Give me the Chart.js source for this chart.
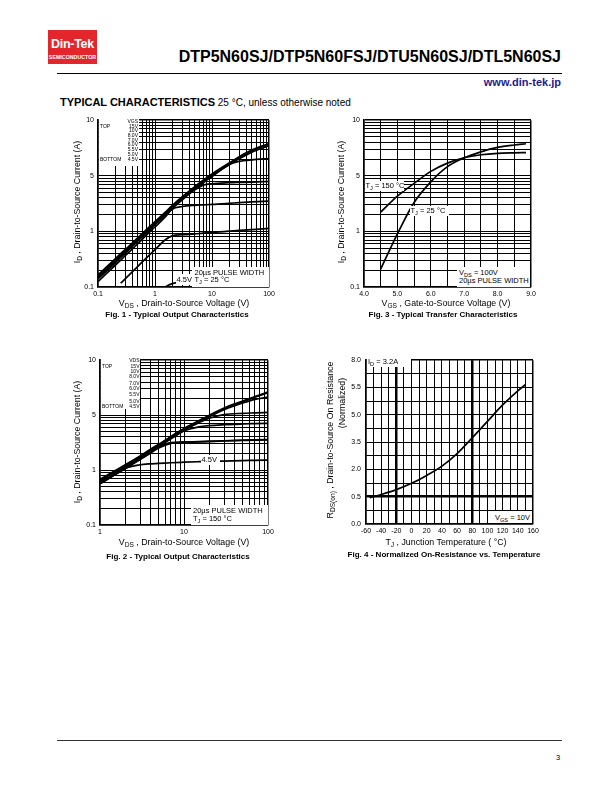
<!DOCTYPE html>
<html lang="en">
<head>
<meta charset="UTF-8">
<title>DTP5N60SJ - Typical Characteristics</title>
<script src="https://cdn.jsdelivr.net/npm/chart.js"></script>
<style>
  body { margin:0; width:612px; height:792px; background:#fff; position:relative; overflow:hidden;
         font-family:"Liberation Sans", Arial, sans-serif; color:#000; }
  canvas { position:absolute; }
  .t { position:absolute; white-space:nowrap; line-height:1; }
  .c { transform:translateX(-50%); }
  .r { transform:translateX(-100%); }
  .v { transform:translate(-50%,-50%) rotate(-90deg); }
  .box { position:absolute; background:#fff; }
  .hl { position:absolute; background:#000; height:1px; }
  sub { font-size:75%; vertical-align:-0.3em; line-height:0; }
  .cap { font-weight:bold; font-size:8px; }
  .ax { font-size:8.8px; }
  .leg { font-size:5px; }
  .note { font-size:7.5px; }
</style>
</head>
<body>

<canvas id="fig1"></canvas>
<canvas id="fig3"></canvas>
<canvas id="fig2"></canvas>
<canvas id="fig4"></canvas>

<!-- header -->
<div class="box" style="left:48px;top:30px;width:49px;height:34px;background:#e3262c"></div>
<div class="t c" style="left:72.5px;top:37.5px;font-weight:bold;font-size:12.5px;color:#fff;letter-spacing:-0.3px">Din-Tek</div>
<div class="t c" style="left:72.5px;top:55px;font-weight:bold;font-size:5.3px;color:#fff">SEMICONDUCTOR</div>
<div class="t r" style="left:561px;top:49px;font-weight:bold;font-size:16px">DTP5N60SJ/DTP5N60FSJ/DTU5N60SJ/DTL5N60SJ</div>
<div class="hl" style="left:57px;top:73px;width:505px"></div>
<div class="t r" style="left:561px;top:76.5px;font-weight:bold;font-size:11px;color:#1b1b8f">www.din-tek.jp</div>
<div class="t" style="left:60px;top:97px;font-size:10px"><b style="font-size:11px">TYPICAL CHARACTERISTICS</b> 25 °C, unless otherwise noted</div>

<!-- fig 1 -->
<div class="box" style="left:99px;top:119px;width:40px;height:47px"></div>
<div class="t r leg" style="left:138px;top:118.5px">VGS</div>
<div class="t leg" style="left:100px;top:124px">TOP</div>
<div class="t r leg" style="left:138px;top:124px">15V</div>
<div class="t r leg" style="left:138px;top:128px">10V</div>
<div class="t r leg" style="left:138px;top:133px">8.0V</div>
<div class="t r leg" style="left:138px;top:138px">7.0V</div>
<div class="t r leg" style="left:138px;top:142px">6.0V</div>
<div class="t r leg" style="left:138px;top:147px">5.5V</div>
<div class="t r leg" style="left:138px;top:152px">5.0V</div>
<div class="t leg" style="left:100px;top:156.5px">BOTTOM</div>
<div class="t r leg" style="left:138px;top:156.5px">4.5V</div>
<div class="box" style="left:176px;top:274px;width:16px;height:11px"></div>
<div class="t note" style="left:176.5px;top:276.3px">4.5V</div>
<div class="box" style="left:192px;top:267px;width:77px;height:19.5px"></div>
<div class="t note" style="left:194.5px;top:268.5px">20µs PULSE WIDTH</div>
<div class="t note" style="left:194.5px;top:276.2px">T<sub>J</sub> = 25 °C</div>
<div class="t c ax" style="left:184px;top:298.5px">V<sub>DS</sub> , Drain-to-Source Voltage (V)</div>
<div class="t v ax" style="left:77px;top:202px">I<sub>D</sub> , Drain-to-Source Current (A)</div>
<div class="t c cap" style="left:177px;top:311px">Fig. 1 - Typical Output Characteristics</div>

<!-- fig 3 -->
<div class="box" style="left:365px;top:181px;width:39px;height:10px"></div>
<div class="t note" style="left:365.5px;top:182.3px">T<sub>J</sub> = 150 °C</div>
<div class="box" style="left:410px;top:206px;width:39px;height:10px"></div>
<div class="t note" style="left:410.5px;top:207.3px">T<sub>J</sub> = 25 °C</div>
<div class="box" style="left:457px;top:267px;width:73px;height:19.5px"></div>
<div class="t note" style="left:459px;top:268.5px">V<sub>DS</sub> = 100V</div>
<div class="t note" style="left:459px;top:276.6px">20µs PULSE WIDTH</div>
<div class="t c ax" style="left:446px;top:298.5px">V<sub>GS</sub> , Gate-to-Source Voltage (V)</div>
<div class="t v ax" style="left:341px;top:202px">I<sub>D</sub> , Drain-to-Source Current (A)</div>
<div class="t c cap" style="left:443px;top:311px">Fig. 3 - Typical Transfer Characteristics</div>

<!-- fig 2 -->
<div class="box" style="left:101px;top:358.5px;width:39px;height:50px"></div>
<div class="t r leg" style="left:139.5px;top:358px">VDS</div>
<div class="t leg" style="left:102px;top:364px">TOP</div>
<div class="t r leg" style="left:139.5px;top:364px">15V</div>
<div class="t r leg" style="left:139.5px;top:369px">10V</div>
<div class="t r leg" style="left:139.5px;top:373.5px">8.0V</div>
<div class="t r leg" style="left:139.5px;top:381px">7.0V</div>
<div class="t r leg" style="left:139.5px;top:385.5px">6.0V</div>
<div class="t r leg" style="left:139.5px;top:391.5px">5.5V</div>
<div class="t r leg" style="left:139.5px;top:398.5px">5.0V</div>
<div class="t leg" style="left:102px;top:403.5px">BOTTOM</div>
<div class="t r leg" style="left:139.5px;top:403.5px">4.5V</div>
<div class="box" style="left:201px;top:455px;width:19px;height:10px"></div>
<div class="t note" style="left:201.5px;top:456.3px">4.5V</div>
<div class="box" style="left:191px;top:505px;width:77px;height:20px"></div>
<div class="t note" style="left:193px;top:507px">20µs PULSE WIDTH</div>
<div class="t note" style="left:193px;top:514.5px">T<sub>J</sub> = 150 °C</div>
<div class="t c ax" style="left:184px;top:537.5px">V<sub>DS</sub> , Drain-to-Source Voltage (V)</div>
<div class="t v ax" style="left:77px;top:442px">I<sub>D</sub> , Drain-to-Source Current (A)</div>
<div class="t c cap" style="left:178px;top:553px">Fig. 2 - Typical Output Characteristics</div>

<!-- fig 4 -->
<div class="box" style="left:367px;top:357.8px;width:44px;height:9px"></div>
<div class="t note" style="left:368px;top:357.6px">I<sub>D</sub> = 3.2A</div>
<div class="box" style="left:489px;top:511px;width:43px;height:12px"></div>
<div class="t r note" style="left:530px;top:514.3px">V<sub>GS</sub> = 10V</div>
<div class="t c ax" style="left:446px;top:537.5px">T<sub>J</sub> , Junction Temperature ( °C)</div>
<div class="t v ax" style="left:330px;top:440px">R<sub>DS(on)</sub> , Drain-to-Source On Resistance</div>
<div class="t v ax" style="left:342px;top:403px">(Normalized)</div>
<div class="t c cap" style="left:444px;top:551px">Fig. 4 - Normalized On-Resistance vs. Temperature</div>

<!-- footer -->
<div class="hl" style="left:57px;top:740px;width:505px;background:#333"></div>
<div class="t" style="left:556px;top:753.5px;font-size:7.5px">3</div>

<script>
// ---- data (values read in the plotted axis units) ----
// Fig 1: output characteristics, TJ = 25 C
const fig1Vds   = [0.1, 0.2, 0.25, 0.3, 0.5, 0.7, 1, 1.5, 2, 3, 5, 7, 10, 20, 30, 50, 100];
const fig1Id15  = [0.165, 0.32, 0.40, 0.47, 0.77, 1.07, 1.5, 2.2, 2.9, 4.2, 6.4, 8.3, 10.8, 17, 22, 29, 38];
const fig1Id10  = [0.158, 0.305, 0.38, 0.45, 0.74, 1.03, 1.45, 2.12, 2.8, 4.05, 6.2, 8.0, 10.4, 16.4, 21.2, 28, 37];
const fig1Id8   = [0.15, 0.29, 0.36, 0.43, 0.71, 0.99, 1.4, 2.05, 2.7, 3.9, 6.0, 7.8, 10.1, 15.8, 20.2, 26.5, 35];
const fig1Id7   = [0.145, 0.28, 0.35, 0.42, 0.69, 0.96, 1.36, 2.0, 2.65, 3.8, 5.8, 7.5, 9.7, 16, 18.2, 19.4, 20.4];
const fig1Id6   = [0.14, 0.27, 0.34, 0.40, 0.67, 0.93, 1.32, 1.95, 2.55, 3.7, 5.6, 6.8, 7.2, 7.5, 7.6, 7.7, 7.9];
const fig1Id55  = [0.125, 0.245, 0.305, 0.365, 0.6, 0.85, 1.2, 1.8, 2.5, 2.8, 2.95, 3.0, 3.05, 3.2, 3.3, 3.4, 3.5];
const fig1Id5   = [null, null, 0.117, 0.14, 0.235, 0.33, 0.47, 0.7, 0.83, 0.87, 0.9, 0.93, 0.96, 1.01, 1.04, 1.08, 1.13];
const fig1Id45  = [null, null, null, null, null, null, null, 0.1, 0.115, 0.12, 0.122, 0.123, 0.124, 0.125, 0.126, 0.127, 0.128];

// Fig 2: output characteristics, TJ = 150 C
const fig2Vds   = [1, 1.5, 2, 3, 4, 5, 7, 10, 15, 20, 30, 50, 70, 100];
const fig2Id15  = [0.68, 0.97, 1.25, 1.8, 2.4, 2.95, 4.1, 5.7, 7.9, 10.0, 13.5, 18.0, 21.8, 26.2];
const fig2Id10  = [0.66, 0.94, 1.21, 1.75, 2.33, 2.87, 4.0, 5.55, 7.7, 9.7, 13.1, 17.5, 21.2, 25.5];
const fig2Id8   = [0.63, 0.91, 1.17, 1.7, 2.26, 2.8, 3.9, 5.4, 7.5, 9.4, 12.6, 16.6, 19.3, 21.3];
const fig2Id7   = [0.61, 0.88, 1.14, 1.66, 2.2, 2.73, 3.8, 5.3, 7.3, 8.8, 10.2, 10.8, 11.0, 11.2];
const fig2Id6   = [0.59, 0.86, 1.11, 1.62, 2.15, 2.67, 3.7, 5.15, 6.1, 6.45, 6.7, 6.9, 7.0, 7.1];
const fig2Id55  = [0.57, 0.83, 1.08, 1.58, 2.1, 2.6, 3.15, 3.25, 3.3, 3.35, 3.42, 3.5, 3.55, 3.6];
const fig2Id5   = [0.56, 0.82, 1.06, 1.55, 2.05, 2.52, 3.05, 3.2, 3.25, 3.3, 3.38, 3.45, 3.5, 3.55];
const fig2Id45  = [0.56, 0.82, 1.08, 1.25, 1.3, 1.32, 1.36, 1.39, 1.42, 1.44, 1.46, 1.49, 1.5, 1.52];

// Fig 3: transfer characteristics
const fig3Vgs   = [4.5, 5.0, 5.5, 6.0, 6.5, 7.0, 7.5, 8.0, 8.5, 8.85];
const fig3Id150 = [2.23, 4.3, 7.3, 12.0, 16.9, 21.1, 23.9, 25.4, 25.9, 26.1];
const fig3Id25  = [0.21, 0.90, 3.31, 7.8, 14.6, 21.1, 27.0, 32.4, 35.8, 37.7];

// Fig 4: normalized on-resistance vs temperature
const fig4Temp  = [-55, -40, -20, 0, 20, 40, 60, 80, 100, 120, 140, 150];
const fig4Rds   = [0.48, 0.54, 0.63, 0.745, 0.89, 1.06, 1.29, 1.58, 1.88, 2.18, 2.44, 2.55];

// tick labels as printed on the sheet
const idTickValues   = [0.1, 1, 10, 100];
const idTickLabels   = ['0.1', '1', '5', '10'];
const vds1TickValues = [0.1, 1, 10, 100];
const vds1TickLabels = ['0.1', '1', '10', '100'];
const vds2TickValues = [1, 10, 100];
const vds2TickLabels = ['1', '10', '100'];
const rdsTickValues  = [0, 0.5, 1, 1.5, 2, 2.5, 3];
const rdsTickLabels  = ['0.0', '0.5', '2.0', '3.5', '5.0', '5.5', '8.0'];

// ---- layout ----
const AXW = 30, AXH = 14, PADT = 6, PADR = 12;
const FONT = { family: "'Liberation Sans', Arial, sans-serif", size: 7 };

function logGrid(e0, e1) {
    const out = [];
    for (let e = e0; e < e1; e++)
        for (let m = 1; m < 10; m++) out.push(+(m * Math.pow(10, e)).toPrecision(4));
    out.push(Math.pow(10, e1));
    return out;
}
function stepGrid(min, max, step) {
    const out = [];
    for (let v = min; v <= max + 1e-9; v += step) out.push(+v.toFixed(4));
    return out;
}
function labelFrom(values, labels) {
    return v => {
        const i = values.findIndex(t => Math.abs(t - v) < 1e-6 * Math.max(1, Math.abs(t)));
        return i >= 0 ? labels[i] : '';
    };
}

function axis(horizontal, type, min, max, grid, label, thick, pad) {
    thick = thick || [];
    return {
        type: type, min: min, max: max,
        afterBuildTicks: s => { s.ticks = grid.map(v => ({ value: v })); },
        afterFit: s => { if (horizontal) s.height = AXH; else s.width = AXW; },
        ticks: { autoSkip: false, maxRotation: 0, padding: pad, font: FONT, color: '#000', callback: label },
        grid: {
            color: '#000', drawTicks: false,
            lineWidth: ctx => {
                const v = ctx.tick ? ctx.tick.value : NaN;
                if (thick.some(t => Math.abs(t - v) < 1e-9)) return 2.5;
                if (Math.abs(v - min) < 1e-9 || Math.abs(v - max) < 1e-6 * Math.abs(max)) return 1.5;
                return 1;
            }
        },
        border: { display: true, color: '#000', width: 1.5 }
    };
}

function series(xs, ys) {
    return { data: xs.map((x, i) => ({ x: x, y: ys[i] })) };
}

function makeChart(id, plot, xScale, yScale, datasets) {
    const cv = document.getElementById(id);
    const w = AXW + (plot.r - plot.l) + PADR, h = PADT + (plot.b - plot.t) + AXH;
    cv.width = w; cv.height = h;
    cv.style.left = (plot.l - AXW) + 'px';
    cv.style.top = (plot.t - PADT) + 'px';
    cv.style.width = w + 'px';
    cv.style.height = h + 'px';
    return new Chart(cv, {
        type: 'line',
        data: { datasets: datasets },
        options: {
            responsive: false, animation: false, events: [],
            layout: { padding: { top: PADT, right: PADR, left: 0, bottom: 0 } },
            plugins: { legend: { display: false }, tooltip: { enabled: false } },
            elements: {
                point: { radius: 0 },
                line: { borderColor: '#000', borderWidth: 1.7, cubicInterpolationMode: 'monotone' }
            },
            scales: { x: xScale, y: yScale }
        }
    });
}

// Fig. 1
makeChart('fig1', { l: 98, t: 118, r: 269, b: 287 },
    axis(true, 'logarithmic', 0.1, 100, logGrid(-1, 2), labelFrom(vds1TickValues, vds1TickLabels), [], 3),
    axis(false, 'logarithmic', 0.1, 100, logGrid(-1, 2), labelFrom(idTickValues, idTickLabels), [], 4),
    [fig1Id15, fig1Id10, fig1Id8, fig1Id7, fig1Id6, fig1Id55, fig1Id5, fig1Id45].map(ys => series(fig1Vds, ys)));

// Fig. 3
makeChart('fig3', { l: 364, t: 118, r: 531, b: 287 },
    axis(true, 'linear', 4, 9, stepGrid(4, 9, 0.5), v => Number.isInteger(v) ? v.toFixed(1) : '', [], 3),
    axis(false, 'logarithmic', 0.1, 100, logGrid(-1, 2), labelFrom(idTickValues, idTickLabels), [], 4),
    [series(fig3Vgs, fig3Id150), series(fig3Vgs, fig3Id25)]);

// Fig. 2
makeChart('fig2', { l: 100, t: 358, r: 268, b: 525 },
    axis(true, 'logarithmic', 1, 100, logGrid(0, 2), labelFrom(vds2TickValues, vds2TickLabels), [], 3),
    axis(false, 'logarithmic', 0.1, 100, logGrid(-1, 2), labelFrom(idTickValues, idTickLabels), [], 4),
    [fig2Id15, fig2Id10, fig2Id8, fig2Id7, fig2Id6, fig2Id55, fig2Id5, fig2Id45].map(ys => series(fig2Vds, ys)));

// Fig. 4
makeChart('fig4', { l: 366, t: 357, r: 533, b: 524 },
    axis(true, 'linear', -60, 160, stepGrid(-60, 160, 10), v => v % 20 === 0 ? String(v) : '', [-20, 80], 3),
    axis(false, 'linear', 0, 3, stepGrid(0, 3, 0.25), labelFrom(rdsTickValues, rdsTickLabels), [0.5], 5),
    [series(fig4Temp, fig4Rds)]);
</script>
</body>
</html>
